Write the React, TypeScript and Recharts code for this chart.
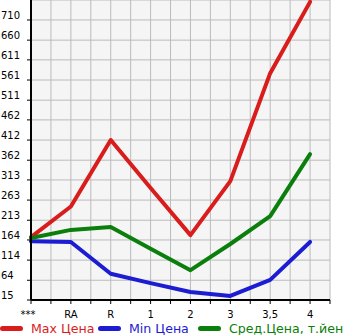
import { CartesianGrid, Line, LineChart, XAxis, YAxis } from "recharts"

document.body.style.margin = "0"

const categories = ["***", "RA", "R", "1", "2", "3", "3,5", "4"]
const maxPrice = [171, 247, 412, 293, 176, 310, 578, 755]
const minPrice = [161, 159, 80, 57, 35, 25, 65, 159]
const avgPrice = [169, 189, 196, 142, 89, 154, 223, 377]
const yTicks = [15, 64, 114, 164, 213, 263, 313, 362, 412, 462, 511, 561, 611, 660, 710]

const legendItems = [
  { name: "Max Цена", color: "#d91c1c" },
  { name: "Min Цена", color: "#1c1cd2" },
  { name: "Сред.Цена, т.йен", color: "#0b7f0b" },
]

const data = categories.map((c, i) => ({
  x: i,
  max: maxPrice[i],
  min: minPrice[i],
  avg: avgPrice[i],
}))

// half-step ticks so the grid and tick marks fall every 20px
const xTicks = Array.from({ length: 16 }, (_, i) => i / 2)

const font = "'DejaVu Sans', sans-serif"

function XTick(props: any) {
  const { x, y, payload } = props
  const v = payload.value
  if (!Number.isInteger(v)) return null
  return (
    <text x={v === 0 ? x - 3 : x} y={y + 12} textAnchor="middle" fontSize={10} fontFamily={font} fill="#000">
      {categories[v]}
    </text>
  )
}

function YTick(props: any) {
  const { y, payload } = props
  return (
    <text x={1} y={y - 1} textAnchor="start" fontSize={10} fontFamily={font} fill="#000">
      {payload.value}
    </text>
  )
}

const legendLeft = [0, 98, 198]

export default function App() {
  return (
    <div style={{ position: "relative", width: 345, height: 335, fontFamily: font, overflow: "hidden" }}>
      <LineChart width={345} height={335} data={data} margin={{ top: 0, right: 15, left: 0, bottom: 15 }}>
        <CartesianGrid stroke="#bbbbbb" strokeWidth={1} fill="#f5f5f5" />
        <XAxis
          dataKey="x"
          type="number"
          domain={[0, 7.5]}
          ticks={xTicks}
          interval={0}
          height={20}
          tick={<XTick />}
          tickSize={4}
          tickLine={{ stroke: "#000" }}
          axisLine={{ stroke: "#000", strokeWidth: 2 }}
        />
        <YAxis
          type="number"
          domain={[15, 759.6]}
          ticks={yTicks}
          interval={0}
          width={31}
          tick={<YTick />}
          tickSize={4}
          tickLine={{ stroke: "#000" }}
          axisLine={{ stroke: "#000", strokeWidth: 2 }}
        />
        <Line dataKey="max" stroke={legendItems[0].color} strokeWidth={4} dot={false} strokeLinecap="round" strokeLinejoin="round" isAnimationActive={false} />
        <Line dataKey="min" stroke={legendItems[1].color} strokeWidth={4} dot={false} strokeLinecap="round" strokeLinejoin="round" isAnimationActive={false} />
        <Line dataKey="avg" stroke={legendItems[2].color} strokeWidth={4} dot={false} strokeLinecap="round" strokeLinejoin="round" isAnimationActive={false} />
      </LineChart>
      {legendItems.map((it, i) => (
        <div key={it.name} style={{ position: "absolute", left: legendLeft[i], top: 320, height: 16, display: "flex", alignItems: "center", whiteSpace: "nowrap" }}>
          <span style={{ display: "inline-block", width: 23, height: 5, borderRadius: 3, background: it.color, marginRight: 8 }} />
          <span style={{ color: it.color, fontSize: 12.6 }}>{it.name}</span>
        </div>
      ))}
    </div>
  )
}
